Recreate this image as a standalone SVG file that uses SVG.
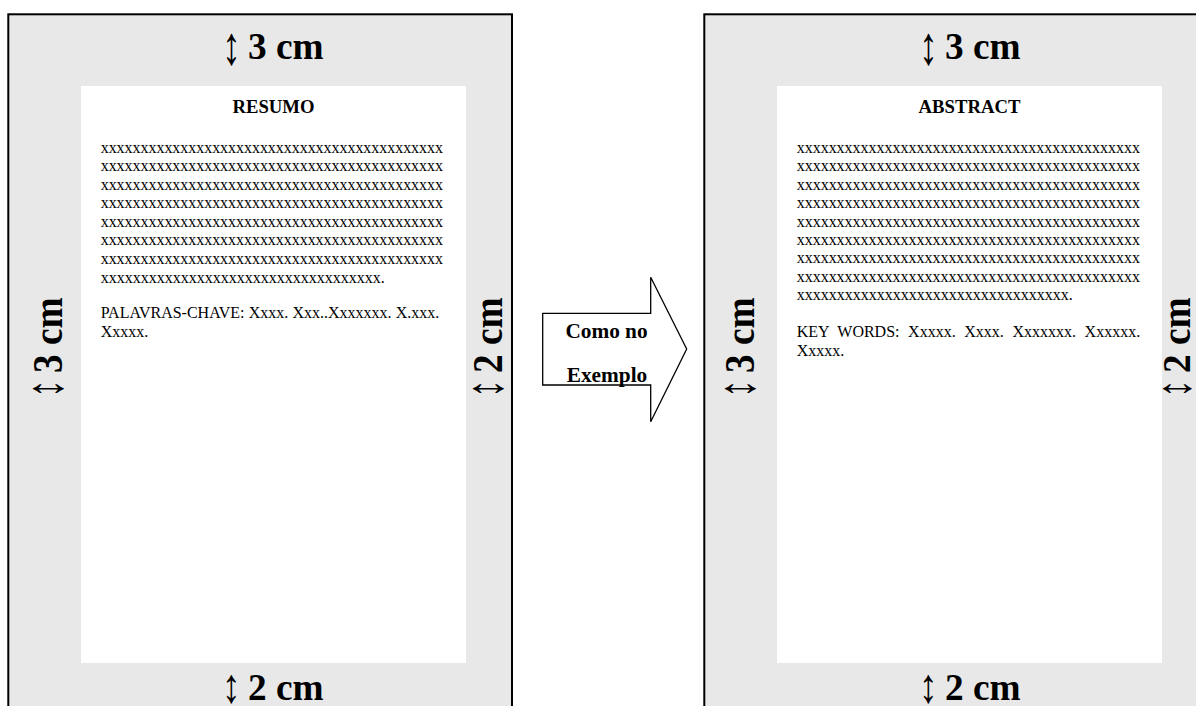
<svg xmlns="http://www.w3.org/2000/svg" width="1196" height="706" viewBox="0 0 1196 706">
<style>
.page{fill:#e8e8e8;stroke:#000;stroke-width:2}
.sheet{fill:#fff}
.big{font-family:"Liberation Serif","Times New Roman",serif;font-weight:bold;font-size:37.3px;fill:#000}
.ar{font-family:"Liberation Serif","Times New Roman",serif;font-weight:normal;font-size:37.3px;fill:#000}
.head{font-family:"Liberation Serif","Times New Roman",serif;font-weight:bold;font-size:18.7px;fill:#000;text-anchor:middle}
.body{font-family:"Liberation Serif","Times New Roman",serif;font-size:16px;fill:#000}
.lbl{font-family:"Liberation Serif","Times New Roman",serif;font-weight:bold;font-size:21.3px;fill:#000;text-anchor:middle}
.arrow{fill:#fff;stroke:#000;stroke-width:1.3;stroke-linejoin:miter}
</style>
<rect width="1196" height="706" fill="#fff"/>

<g id="page-resumo">
  <rect class="page" x="8.3" y="14.3" width="503.7" height="720"/>
  <rect class="sheet" x="81" y="86" width="385" height="577"/>
  <text class="ar" transform="translate(222,64.3) scale(1,1.45)">↕</text>
  <text class="big" x="248" y="59.3">3 cm</text>
  <text class="ar" transform="translate(222,702) scale(1,1.3)">↕</text>
  <text class="big" x="248" y="700">2 cm</text>
  <text class="ar" transform="translate(62,398) rotate(-90) scale(1,1.4)">↕</text>
  <text class="big" transform="translate(62,398) rotate(-90) scale(1,1.15)" x="25">3 cm</text>
  <text class="ar" transform="translate(502,398) rotate(-90) scale(1,1.4)">↕</text>
  <text class="big" transform="translate(502,398) rotate(-90) scale(1,1.15)" x="25">2 cm</text>
  <text class="head" x="273.5" y="113">RESUMO</text>
  <g class="body">
    <text x="100.7" y="152.5" textLength="342.3" lengthAdjust="spacing">xxxxxxxxxxxxxxxxxxxxxxxxxxxxxxxxxxxxxxxxxxx</text>
    <text x="100.7" y="171" textLength="342.3" lengthAdjust="spacing">xxxxxxxxxxxxxxxxxxxxxxxxxxxxxxxxxxxxxxxxxxx</text>
    <text x="100.7" y="189.5" textLength="342.3" lengthAdjust="spacing">xxxxxxxxxxxxxxxxxxxxxxxxxxxxxxxxxxxxxxxxxxx</text>
    <text x="100.7" y="208" textLength="342.3" lengthAdjust="spacing">xxxxxxxxxxxxxxxxxxxxxxxxxxxxxxxxxxxxxxxxxxx</text>
    <text x="100.7" y="226.5" textLength="342.3" lengthAdjust="spacing">xxxxxxxxxxxxxxxxxxxxxxxxxxxxxxxxxxxxxxxxxxx</text>
    <text x="100.7" y="245" textLength="342.3" lengthAdjust="spacing">xxxxxxxxxxxxxxxxxxxxxxxxxxxxxxxxxxxxxxxxxxx</text>
    <text x="100.7" y="263.5" textLength="342.3" lengthAdjust="spacing">xxxxxxxxxxxxxxxxxxxxxxxxxxxxxxxxxxxxxxxxxxx</text>
    <text x="100.7" y="282.5">xxxxxxxxxxxxxxxxxxxxxxxxxxxxxxxxxxx.</text>
    <text x="100.7" y="318.3" word-spacing="0.2">PALAVRAS-CHAVE: Xxxx. Xxx..Xxxxxxx. X.xxx.</text>
    <text x="100.7" y="336.7">Xxxxx.</text>
  </g>
</g>

<g id="page-abstract">
  <rect class="page" x="704.3" y="14.3" width="503.7" height="720"/>
  <rect class="sheet" x="777" y="86" width="385" height="577"/>
  <text class="ar" transform="translate(919,64.3) scale(1,1.45)">↕</text>
  <text class="big" x="945" y="59.3">3 cm</text>
  <text class="ar" transform="translate(919,702) scale(1,1.3)">↕</text>
  <text class="big" x="945" y="700">2 cm</text>
  <text class="ar" transform="translate(754,398) rotate(-90) scale(1,1.4)">↕</text>
  <text class="big" transform="translate(754,398) rotate(-90) scale(1,1.15)" x="25">3 cm</text>
  <text class="ar" transform="translate(1190,398) rotate(-90) scale(1,1.3)">↕</text>
  <text class="big" transform="translate(1190,398) rotate(-90) scale(1,1.1)" x="25">2 cm</text>
  <text class="head" x="969.5" y="113">ABSTRACT</text>
  <g class="body">
    <text x="796.7" y="153" textLength="343.3" lengthAdjust="spacing">xxxxxxxxxxxxxxxxxxxxxxxxxxxxxxxxxxxxxxxxxxx</text>
    <text x="796.7" y="171.4" textLength="343.3" lengthAdjust="spacing">xxxxxxxxxxxxxxxxxxxxxxxxxxxxxxxxxxxxxxxxxxx</text>
    <text x="796.7" y="189.8" textLength="343.3" lengthAdjust="spacing">xxxxxxxxxxxxxxxxxxxxxxxxxxxxxxxxxxxxxxxxxxx</text>
    <text x="796.7" y="208.2" textLength="343.3" lengthAdjust="spacing">xxxxxxxxxxxxxxxxxxxxxxxxxxxxxxxxxxxxxxxxxxx</text>
    <text x="796.7" y="226.6" textLength="343.3" lengthAdjust="spacing">xxxxxxxxxxxxxxxxxxxxxxxxxxxxxxxxxxxxxxxxxxx</text>
    <text x="796.7" y="245" textLength="343.3" lengthAdjust="spacing">xxxxxxxxxxxxxxxxxxxxxxxxxxxxxxxxxxxxxxxxxxx</text>
    <text x="796.7" y="263.4" textLength="343.3" lengthAdjust="spacing">xxxxxxxxxxxxxxxxxxxxxxxxxxxxxxxxxxxxxxxxxxx</text>
    <text x="796.7" y="281.8" textLength="343.3" lengthAdjust="spacing">xxxxxxxxxxxxxxxxxxxxxxxxxxxxxxxxxxxxxxxxxxx</text>
    <text x="796.7" y="300.2">xxxxxxxxxxxxxxxxxxxxxxxxxxxxxxxxxx.</text>
    <text x="796.7" y="337.3" word-spacing="4.6">KEY WORDS: Xxxxx. Xxxx. Xxxxxxx. Xxxxxx.</text>
    <text x="796.7" y="355.7">Xxxxx.</text>
  </g>
</g>

<g id="connectors">
  <g id="arrow-como-no-exemplo">
    <polygon class="arrow" points="542.7,313.3 650.7,313.3 650.7,277.3 686.7,349 650.7,421.7 650.7,385 542.7,385"/>
    <text class="lbl" x="606.5" y="338.3">Como no</text>
    <text class="lbl" x="607" y="381.7">Exemplo</text>
  </g>
</g>
</svg>
